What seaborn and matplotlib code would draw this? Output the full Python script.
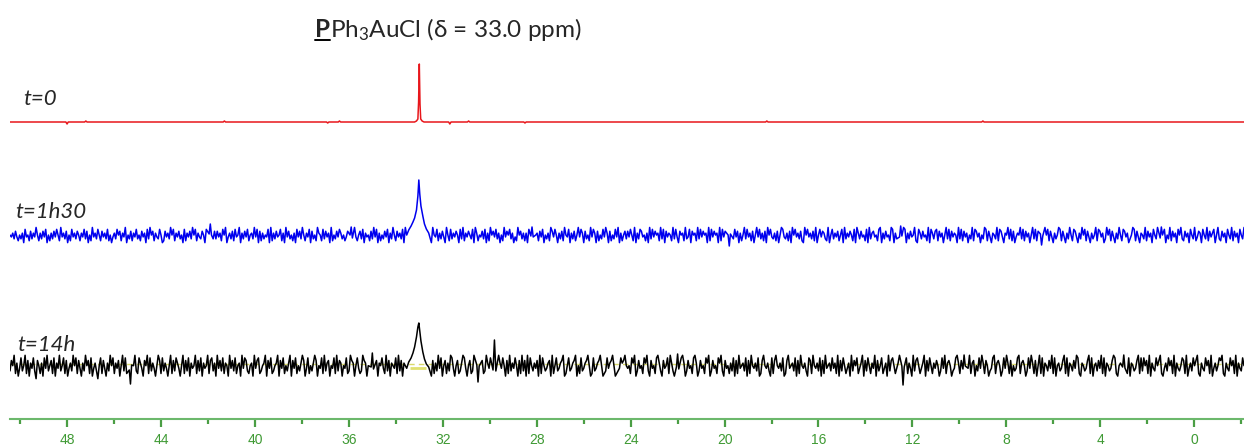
import numpy as np
import pandas as pd
import matplotlib
matplotlib.use("Agg")
import matplotlib.pyplot as plt
import seaborn as sns
from matplotlib.lines import Line2D
from matplotlib.ticker import MultipleLocator

# 31P NMR spectra, ppm axis (reversed)
ppm_left = 50.43
ppm_right = -2.12

# t=0 trace: sparse points (ppm, height above baseline in px)
red_ppm = [50.43, 48.05, 48.0, 47.95, 47.25, 47.2, 47.15, 41.35, 41.3, 41.25,
           36.95, 36.9, 36.85, 36.45, 36.4, 36.35,
           33.2, 33.12, 33.06, 33.03, 33.0, 32.97, 32.94, 32.88, 32.8,
           31.75, 31.7, 31.65, 30.95, 30.9, 30.85, 28.55, 28.5, 28.45,
           18.25, 18.2, 18.15, 9.05, 9.0, 8.95, -2.12]
red_int = [0, 0, -2, 0, 0, 1, 0, 0, 1, 0,
           0, -1, 0, 0, 1, 0,
           0, 1, 3, 20, 58, 18, 3, 1, 0,
           0, -2, 0, 0, 1, 0, 0, -1, 0,
           0, 1, 0, 0, 1, 0, 0]

# t=1h30 noise, one digit per point (4.5 = baseline), evenly spaced over the ppm range
blue_noise = (
    "546374253618452736495263748152637485294637152846375264837152946385274638251"
    "463857264915372648352746183957264385127463958264735182647395826437518294637"
    "374628591463728459163748256394817263548192637458261947352618473952648173529"
    "652837461925374863524718369425738164527394816253748163952746381957246385172"
    "485263719548263741952836475183926475381962547381629574836152947583614295736"
    "261847395627481536297485163729548163725948617352948617253849617253849162573"
    "748529163874526193847562938174652938417562934817562938475619284756192847563"
    "593847162593846271594836271958436271598436271958463721958463729158476329158"
    "364725819364752819637452819367452891637452981637542981637459218637452918637"
    "827461593827465193827461539287461539827416539287416593827146593827461593827"
    "416395827416359827416395287416395827416359287461395827416395287461359827416"
    "539274618539274681539274618593274618539247618539274681593274618539274618539"
)
blue_feat_ppm = [41.95, 41.9, 41.85, 35.95, 35.9, 35.85,
                 33.45, 33.35, 33.27, 33.2, 33.12, 33.06, 33.02, 32.98, 32.93, 32.85, 32.78, 32.7, 32.6,
                 28.25, 28.2, 28.15, 19.85, 19.8, 19.75, 12.55, 12.5, 12.45,
                 6.55, 6.5, 6.45, 1.45, 1.4, 1.35]
blue_feat_h = [2, 12, 1, 1, 9, -2,
               6, 10, 14, 18, 26, 40, 56, 42, 30, 20, 12, 7, 3,
               0, 9, -1, 1, -10, 2, -1, 10, 0,
               2, -9, 0, -2, 9, 1]

# t=14h noise
black_noise = (
    "375926148359271648307526184935728164935827146395827416395728146305827416395"
    "826471593826417593286417592836415972836415927386415927381645927381645927836"
    "194738265194738256194873256194782356917482356917482536917482536971482536971"
    "548293671548293761548239761584239761584293716584293716548293716548239716548"
    "263948517263948157263984157236984157239684157239648157239648517293648517293"
    "719285364719285346719258346791258346791528346795128346795123846795123486795"
    "452869137452869317452896317458296317452896137452896137452869137452869317452"
    "638172945638172954638127954631827954638127945638172954631872954638172945638"
    "462917385246193758246917385264917358246193785246917358264193785246917385264"
    "751384926751348962751384926715384962751348926751384962715348926751384962715"
    "928165374928156347928165374982165347928156374928165347982156374928165347928"
    "385729164385792146385729164358729146385792164385729146358792164385729164385"
)
black_feat_ppm = [45.35, 45.3, 45.25, 35.05, 35.0, 34.95,
                  33.45, 33.35, 33.27, 33.2, 33.12, 33.06, 33.02, 32.98, 32.93, 32.85, 32.78, 32.7, 32.6,
                  30.55, 30.5, 30.45, 29.86, 29.8, 29.74,
                  22.05, 22.0, 21.95, 12.45, 12.4, 12.35, 9.85, 9.8, 9.75, 3.05, 3.0, 2.95]
black_feat_h = [-3, -17, 2, 0, 14, -2,
                5, 9, 14, 20, 30, 40, 44, 36, 26, 15, 8, 3, 0,
                2, -15, 1, -3, 27, -4,
                0, 13, -2, 1, -18, 0, -2, 12, 1, 0, 12, -1]

labels = ["t=0", "t=1h30", "t=14h"]
offsets = [297, 183, 52]   # baseline of each trace, px above the axis line
colors = ["#e8161b", "#0000ee", "#000000"]
title_rest = r"Ph$_3$AuCl (δ = 33.0 ppm)"


def build_trace(noise, scale, feat_ppm, feat_h):
    vals = (np.array([int(c) for c in noise]) - 4.5) * scale
    x = np.linspace(ppm_left, ppm_right, len(vals))
    fp = np.array(feat_ppm)
    keep = np.abs(x[:, None] - fp[None, :]).min(axis=1) > 0.07
    xs = np.concatenate([x[keep], fp])
    ys = np.concatenate([vals[keep], feat_h])
    order = np.argsort(-xs)
    return xs[order], ys[order]


sns.set_style("white")
plt.rcParams["font.family"] = ["Lato", "DejaVu Sans"]
plt.rcParams["mathtext.fontset"] = "custom"
plt.rcParams["mathtext.rm"] = "Lato"
plt.rcParams["mathtext.it"] = "Lato:italic"
plt.rcParams["mathtext.bf"] = "Lato:bold"
plt.rcParams["xtick.bottom"] = True
plt.rcParams["xtick.direction"] = "out"

W, H = 1244, 446
fig = plt.figure(figsize=(W / 100, H / 100), dpi=100)
ax = fig.add_axes([10 / W, 27 / H, 1234 / W, 419 / H])

bx, by = build_trace(blue_noise, 1.9, blue_feat_ppm, blue_feat_h)
kx, ky = build_trace(black_noise, 2.6, black_feat_ppm, black_feat_h)
df = pd.concat([
    pd.DataFrame({"ppm": red_ppm, "y": np.array(red_int) + offsets[0], "trace": labels[0]}),
    pd.DataFrame({"ppm": bx, "y": by + offsets[1], "trace": labels[1]}),
    pd.DataFrame({"ppm": kx, "y": ky + offsets[2], "trace": labels[2]}),
])

# yellow baseline marker under the t=14h trace
ax.axhline(offsets[2] + 3.5, color="#d9d96a", lw=1, ls=(0, (4, 3)), zorder=1)
ax.hlines(offsets[2] - 1, 33.4, 32.7, color="#e0e070", lw=2, zorder=1)

sns.lineplot(data=df, x="ppm", y="y", hue="trace", palette=dict(zip(labels, colors)),
             estimator=None, sort=False, lw=1.1, legend=False, ax=ax, zorder=2)

ax.set_xlim(ppm_left, ppm_right)
ax.set_ylim(0, 419)
ax.set_xlabel("")
ax.set_ylabel("")
ax.set_yticks([])
for s in ["top", "left", "right"]:
    ax.spines[s].set_visible(False)
ax.spines["bottom"].set_color("#6cb86c")
ax.spines["bottom"].set_linewidth(1.5)
ax.set_xticks(np.arange(0, 49, 4))
ax.xaxis.set_minor_locator(MultipleLocator(2))
ax.tick_params(axis="x", which="both", bottom=True, direction="out", color="#4a9e44")
ax.tick_params(axis="x", which="major", length=6, width=1.6,
               labelcolor="#3f9a34", labelsize=10, pad=4)
ax.tick_params(axis="x", which="minor", length=3.5, width=1.6)
for t in ax.get_xticklabels():
    t.set_family(["Liberation Sans", "DejaVu Sans"])

# trace labels
for lab, xl, yb in zip(labels, [23, 15, 17], [105, 218, 351]):
    fig.text(xl / W, (H - yb) / H, lab, style="italic", fontsize=16, va="baseline")

# title with bold underlined P
fig.canvas.draw()
r = fig.canvas.get_renderer()
tx, ty = 315, H - 37
p = fig.text(tx / W, ty / H, "P", fontweight="bold", fontsize=17.5, va="baseline")
pb = p.get_window_extent(r)
fig.text(pb.x1 / W, ty / H, title_rest, fontsize=17.5, va="baseline")
fig.add_artist(Line2D([pb.x0, pb.x1], [ty - 3, ty - 3], lw=1.4, color="black",
                      transform=None))

fig.savefig("out.png", dpi=100)
